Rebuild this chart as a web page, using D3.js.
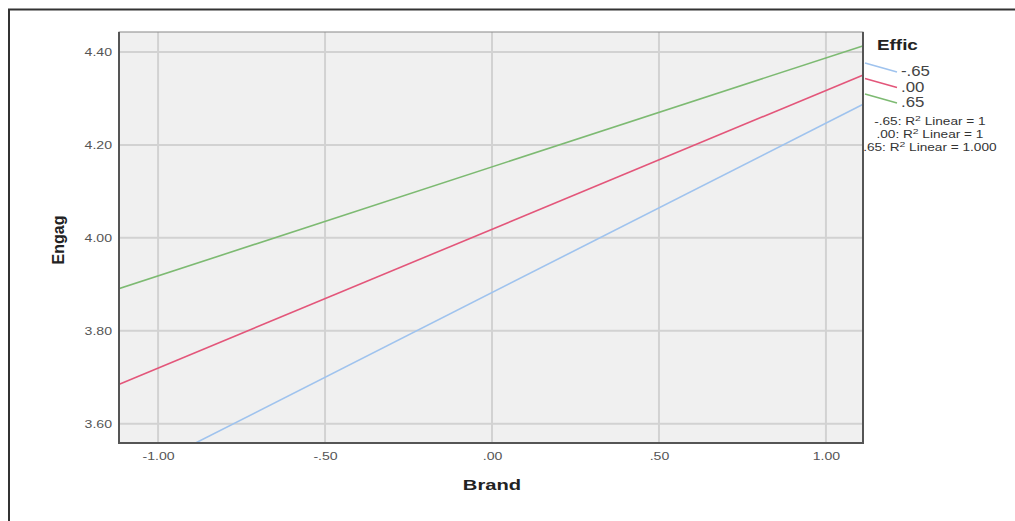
<!DOCTYPE html>
<html>
<head>
<meta charset="utf-8">
<script src="https://cdn.jsdelivr.net/npm/d3@7"></script>
<style>
  body { margin: 0; background: #fff; }
  svg { font-family: "Liberation Sans", Arial, sans-serif; }
</style>
</head>
<body>
<div class="chart"></div>
<script>
// data: fit line endpoints for each Effic level
const brandEnds = [-1.12, 1.11];
const efficLevels = ["-.65", ".00", ".65"];
const engagLow = [3.474, 3.684, 3.890];
const engagHigh = [4.287, 4.350, 4.413];
const lineColors = ["#9fc3ee", "#e3567a", "#7dba72"];
const r2Prefix = ["-.65: R", ".00: R", ".65: R"];
const r2Values = ["1", "1", "1.000"];
const xTicks = [-1, -0.5, 0, 0.5, 1];
const yTicks = [3.6, 3.8, 4.0, 4.2, 4.4];

let dims = { width: 1015, height: 521 };
let plot = { left: 119, top: 32, right: 863, bottom: 443 };

let svg = d3.select(".chart").append("svg")
  .attr("width", dims.width)
  .attr("height", dims.height);

// the source picture is stretched sideways, so widen text the same way
let stretch = (sel, k) => sel.each(function () {
  let w = this.getComputedTextLength();
  d3.select(this).attr("textLength", w * k).attr("lengthAdjust", "spacingAndGlyphs");
});

// outer frame (only top + left show)
svg.append("path")
  .attr("d", `M9,${dims.height} V9.5 H${dims.width}`)
  .attr("fill", "none")
  .attr("stroke", "#333")
  .attr("stroke-width", 2);

let x = d3.scaleLinear().domain([-1.117, 1.111]).range([plot.left, plot.right]);
let y = d3.scaleLinear().domain([3.5586, 4.4429]).range([plot.bottom, plot.top]);

svg.append("rect")
  .attr("x", plot.left).attr("y", plot.top)
  .attr("width", plot.right - plot.left)
  .attr("height", plot.bottom - plot.top)
  .attr("fill", "#f0f0f0");

// grid
svg.append("g").selectAll("line").data(xTicks).join("line")
  .attr("x1", d => x(d)).attr("x2", d => x(d))
  .attr("y1", plot.top).attr("y2", plot.bottom)
  .attr("stroke", "#d2d2d2").attr("stroke-width", 2);
svg.append("g").selectAll("line").data(yTicks).join("line")
  .attr("x1", plot.left).attr("x2", plot.right)
  .attr("y1", d => y(d)).attr("y2", d => y(d))
  .attr("stroke", "#d2d2d2").attr("stroke-width", 2);

svg.append("clipPath").attr("id", "clip")
  .append("rect")
  .attr("x", plot.left).attr("y", plot.top)
  .attr("width", plot.right - plot.left)
  .attr("height", plot.bottom - plot.top);

let line = d3.line().x(d => x(d[0])).y(d => y(d[1]));

svg.append("g").attr("clip-path", "url(#clip)")
  .selectAll("path").data(efficLevels).join("path")
  .attr("d", (d, i) => line([[brandEnds[0], engagLow[i]], [brandEnds[1], engagHigh[i]]]))
  .attr("fill", "none")
  .attr("stroke", (d, i) => lineColors[i])
  .attr("stroke-width", 1.6);

// plot border
svg.append("rect")
  .attr("x", plot.left).attr("y", plot.top)
  .attr("width", plot.right - plot.left)
  .attr("height", plot.bottom - plot.top)
  .attr("fill", "none")
  .attr("stroke", "#888").attr("stroke-width", 1);
svg.append("path")
  .attr("d", `M${plot.left},${plot.top} V${plot.bottom} H${plot.right} V${plot.top}`)
  .attr("fill", "none")
  .attr("stroke", "#555").attr("stroke-width", 2);

// axes, SPSS style labels: -1.00, -.50, .00
let fmt = d => {
  let s = Math.abs(d).toFixed(2).replace(/^0\./, ".");
  return (d < 0 ? "-" : "") + s;
};
let xAxis = svg.append("g")
  .attr("transform", `translate(0,${plot.bottom})`)
  .call(d3.axisBottom(x).tickValues(xTicks).tickFormat(fmt).tickSize(0).tickPadding(9));
let yAxis = svg.append("g")
  .attr("transform", `translate(${plot.left},0)`)
  .call(d3.axisLeft(y).tickValues(yTicks).tickFormat(fmt).tickSize(0).tickPadding(7));
[xAxis, yAxis].forEach(a => {
  a.select(".domain").remove();
  a.selectAll("text")
    .style("font-family", "'Liberation Sans', Arial, sans-serif")
    .style("font-size", "11px")
    .style("fill", "#555")
    .call(stretch, 1.28);
});

svg.append("text")
  .attr("x", 492).attr("y", 490)
  .attr("text-anchor", "middle")
  .style("font-size", "15.5px").style("font-weight", "bold")
  .style("fill", "#222")
  .text("Brand")
  .call(stretch, 1.3);

svg.append("text")
  .attr("transform", "translate(64,240) rotate(-90)")
  .attr("text-anchor", "middle")
  .style("font-size", "16px").style("font-weight", "bold")
  .style("fill", "#222")
  .text("Engag");

// legend
let legend = svg.append("g");
legend.append("text")
  .attr("x", 877).attr("y", 50)
  .style("font-size", "14.5px").style("font-weight", "bold")
  .style("fill", "#222")
  .text("Effic")
  .call(stretch, 1.3);

let items = legend.selectAll("g.item").data(efficLevels).join("g")
  .attr("class", "item")
  .attr("transform", (d, i) => `translate(0,${i * 15.5})`);
items.append("line")
  .attr("x1", 865).attr("y1", 63).attr("x2", 897).attr("y2", 72)
  .attr("stroke", (d, i) => lineColors[i]).attr("stroke-width", 1.6);
items.append("text")
  .attr("x", 901).attr("y", 76)
  .style("font-size", "14px").style("fill", "#444")
  .text(d => d)
  .call(stretch, 1.2);

let r2 = legend.selectAll("text.r2").data(r2Prefix).join("text")
  .attr("class", "r2")
  .attr("y", (d, i) => 125 + i * 13)
  .style("font-size", "10.5px").style("fill", "#333");
r2.append("tspan").text(d => d);
r2.append("tspan").attr("dy", -4).style("font-size", "8px").text("2");
r2.append("tspan").attr("dy", 4).text((d, i) => " Linear = " + r2Values[i]);
r2.each(function () {
  let t = d3.select(this);
  let w = this.getComputedTextLength() * 1.3;
  t.attr("transform", `translate(${930 - w / 2},0) scale(1.3,1)`).attr("x", 0);
  t.attr("y", +t.attr("y"));
});
</script>
</body>
</html>
